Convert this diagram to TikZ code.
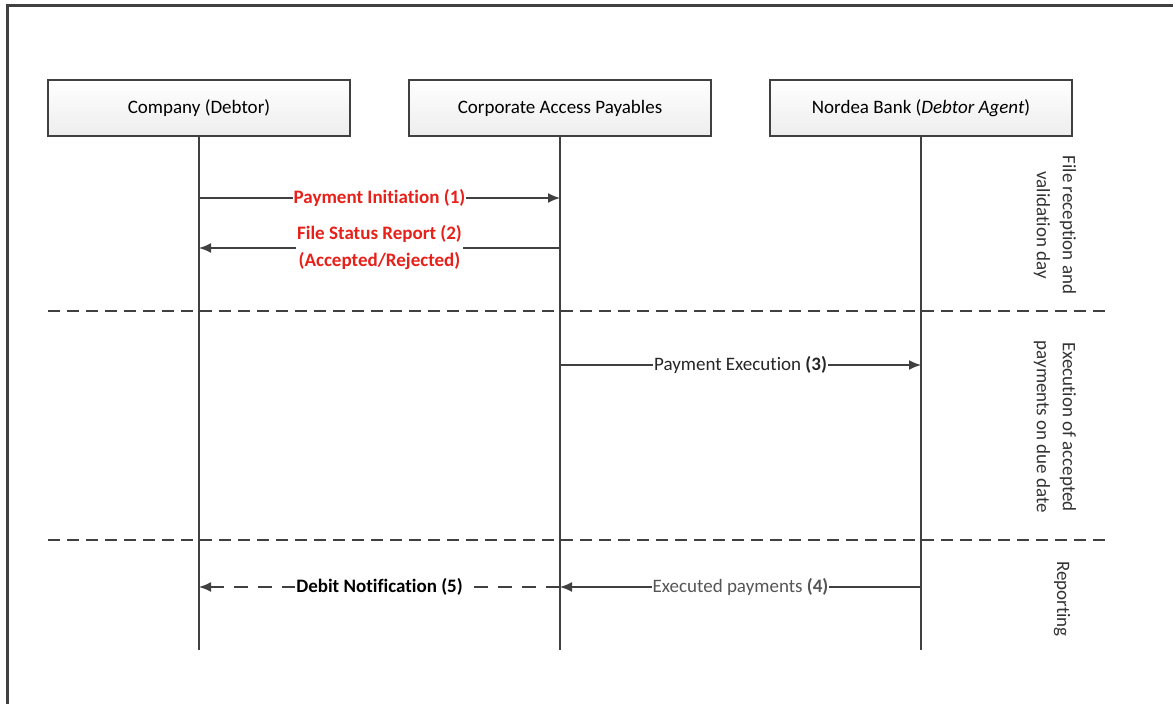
\documentclass[tikz,border=0pt]{standalone}
\usepackage{fontspec}
\setmainfont{Carlito}[Ligatures=NoCommon]
\usetikzlibrary{arrows.meta}
\definecolor{linegray}{RGB}{64,64,64}
\definecolor{msgred}{RGB}{232,32,26}
\definecolor{msggray}{RGB}{85,85,85}
\begin{document}
\begin{tikzpicture}
	[x=0.5pt,y=-0.5pt,
		every node/.style={font=\fontsize{9.5pt}{13pt}\selectfont},
		party/.style={draw=linegray,line width=0.8pt,top color=white,bottom color=black!7,minimum width=151pt,minimum height=28pt,inner sep=0pt},
		frame/.style={black!75,line width=1.5pt},
		lifeline/.style={linegray,line width=1.1pt},
		message/.style={-{Latex[length=6pt,width=5pt]},linegray,line width=0.8pt},
		reply/.style={message,dash pattern=on 7pt off 5pt},
		separator/.style={linegray,line width=0.75pt,dash pattern=on 6pt off 3.5pt},
		tag/.style={fill=white,inner sep=0.5pt,align=center},
		phase/.style={rotate=-90,align=center,text=black!80}]
	\useasboundingbox (0,0) rectangle (1173,704);
	\coordinate (FrR) at (1173,6);
	\coordinate (FrC) at (7,6);
	\coordinate (FrB) at (7,704);
	\draw[frame] (FrR) -- (FrC) -- (FrB);
	\node[party] (debtor) at (199,108) {Company (Debtor)};
	\node[party] (cap) at (560,108) {Corporate Access Payables};
	\node[party] (nordea) at (921,108) {Nordea Bank (\textit{Debtor Agent})};
	\coordinate (debtorEnd) at (199,650);
	\coordinate (capEnd) at (560,650);
	\coordinate (nordeaEnd) at (921,650);
	\draw[lifeline] (debtor) -- (debtorEnd);
	\draw[lifeline] (cap) -- (capEnd);
	\draw[lifeline] (nordea) -- (nordeaEnd);
	\coordinate (D1) at (199,198);
	\coordinate (C1) at (560,198);
	\coordinate (D2) at (199,248);
	\coordinate (C2) at (560,248);
	\coordinate (C3) at (560,365);
	\coordinate (N3) at (921,365);
	\coordinate (C4) at (560,587);
	\coordinate (N4) at (921,587);
	\coordinate (D5) at (199,587);
	\coordinate (SepA) at (48,311);
	\coordinate (SepA') at (1105,311);
	\coordinate (SepB) at (48,540);
	\coordinate (SepB') at (1105,540);
	\draw[message] (D1) -- node[tag,text=msgred]{\textbf{Payment Initiation (1)}} (C1);
	\draw[message] (C2) -- node[tag,text=msgred,font=\bfseries\fontsize{9.5pt}{13.5pt}\selectfont]{File Status Report (2)\\(Accepted/Rejected)} (D2);
	\draw[separator] (SepA) -- (SepA');
	\draw[message] (C3) -- node[tag,text=black!85]{Payment Execution \textbf{(3)}} (N3);
	\draw[separator] (SepB) -- (SepB');
	\draw[message] (N4) -- node[tag,text=msggray]{Executed payments \textbf{(4)}} (C4);
	\draw[reply] (C4) -- node[tag,text=black]{\textbf{Debit Notification (5)}} (D5);
	\node[phase] (recv) at (1055,225) {File reception and\\validation day};
	\node[phase] (exec) at (1055,427) {Execution of accepted\\payments on due date};
	\node[phase] (rep) at (1062,599) {Reporting};
\end{tikzpicture}
\end{document}
